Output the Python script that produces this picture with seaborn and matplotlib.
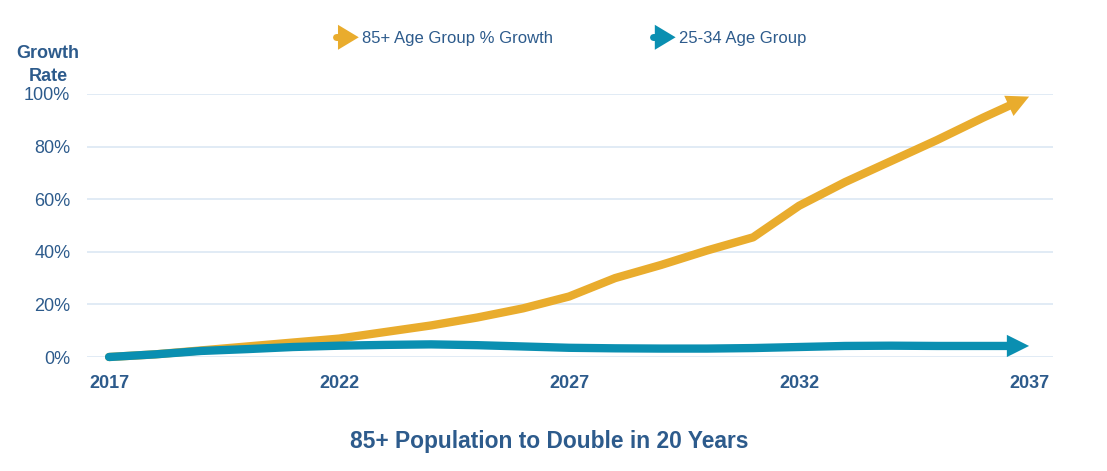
import matplotlib
matplotlib.use("Agg")
import matplotlib.pyplot as plt
from matplotlib.lines import Line2D
from matplotlib.patches import Polygon
from matplotlib.legend_handler import HandlerBase
import seaborn as sns
import pandas as pd
import numpy as np

years = list(range(2017, 2038))
growth_85 = [0, 1, 2.5, 4, 5.5, 7, 9.5, 12, 15, 18.5, 23, 30, 35, 40.5, 45.5,
             57.5, 66.5, 74.5, 82.5, 91, 99]
growth_25_34 = [0, 1, 2.3, 3, 3.8, 4.3, 4.6, 4.8, 4.5, 4.0, 3.5, 3.3, 3.2, 3.2, 3.4,
                3.8, 4.2, 4.3, 4.2, 4.2, 4.2]
series_names = ["85+ Age Group % Growth", "25-34 Age Group"]
x_ticks = [2017, 2022, 2027, 2032, 2037]
y_ticks = [0, 20, 40, 60, 80, 100]

ORANGE = "#E9AC2D"
TEAL = "#0A8FB1"
TEXT = "#2D5B8C"
GRID = "#DCE8F4"
LW = 6.0

sns.set_theme(style="white")
plt.rcParams["font.family"] = ["Liberation Sans", "DejaVu Sans"]

df = pd.DataFrame({"year": years * 2,
                   "value": growth_85 + growth_25_34,
                   "series": [series_names[0]] * len(years) + [series_names[1]] * len(years)})

fig = plt.figure(figsize=(11.07, 4.71), dpi=100)
ax = fig.add_axes([87 / 1107, 1 - 357 / 471, (1053 - 87) / 1107, (357 - 94) / 471])

colors = {series_names[0]: ORANGE, series_names[1]: TEAL}
sns.lineplot(data=df, x="year", y="value", hue="series", palette=colors,
             linewidth=LW, ax=ax, legend=False, solid_capstyle="round",
             solid_joinstyle="round", clip_on=False, zorder=3)

ax.set_xlim(2016.52, 2037.52)
ax.set_ylim(0, 100)

# shorten line ends so the arrow heads form sharp tips, then add heads
px_per_pt = fig.dpi / 72.0
for line, vals, c in zip(ax.lines[:2], [growth_85, growth_25_34], [ORANGE, TEAL]):
    xd = np.asarray(line.get_xdata(), float)
    yd = np.asarray(line.get_ydata(), float)
    p1 = ax.transData.transform((xd[-2], yd[-2]))
    p2 = ax.transData.transform((xd[-1], yd[-1]))
    d = (p2 - p1) / np.hypot(*(p2 - p1))
    newend = ax.transData.inverted().transform(p2 - d * 11 * px_per_pt)
    xd[-1], yd[-1] = newend
    line.set_data(xd, yd)
    ax.annotate("", xy=(years[-1], vals[-1]), xytext=(years[-2], vals[-2]),
                arrowprops=dict(arrowstyle="-|>,head_length=0.8,head_width=0.4",
                                mutation_scale=20, color=c, lw=0,
                                shrinkA=0, shrinkB=0),
                annotation_clip=False, zorder=4)

ax.set_xticks(x_ticks)
ax.set_xticklabels([str(t) for t in x_ticks], fontsize=13, fontweight="bold", color=TEXT)
ax.set_yticks(y_ticks)
ax.set_yticklabels([f"{t}%" for t in y_ticks], fontsize=13, color=TEXT)
ax.tick_params(axis="x", length=0, pad=13)
ax.tick_params(axis="y", length=0, pad=12)
ax.grid(axis="y", color=GRID, linewidth=1.2)
ax.set_axisbelow(True)
for s in ax.spines.values():
    s.set_visible(False)
ax.set_xlabel("")
ax.set_ylabel("")

fig.text(0.0435, 0.862, "Growth\nRate", ha="center", va="center", fontsize=13,
         fontweight="bold", color=TEXT, linespacing=1.5)


class ArrowHandler(HandlerBase):
    def create_artists(self, legend, orig_handle, xdescent, ydescent,
                       width, height, fontsize, trans):
        c = orig_handle.get_color()
        cy = height / 2 - ydescent
        x0 = -xdescent
        stub = Line2D([x0 + 3, x0 + width * 0.45], [cy, cy], color=c, lw=5,
                      solid_capstyle="round", transform=trans)
        tri = Polygon([[x0 + width * 0.22, cy + 9], [x0 + width * 0.22, cy - 9],
                       [x0 + width, cy]], closed=True, facecolor=c,
                      edgecolor="none", transform=trans)
        return [stub, tri]


handles = [Line2D([0], [0], color=ORANGE), Line2D([0], [0], color=TEAL)]
fig.legend(handles, series_names, loc="center", bbox_to_anchor=(0.5142, 0.918),
           ncol=2, frameon=False, fontsize=12, handlelength=1.6,
           columnspacing=5.75, handletextpad=0.2, labelcolor=TEXT,
           handler_map={Line2D: ArrowHandler()})

fig.text(0.496, 0.063, "85+ Population to Double in 20 Years", ha="center",
         va="center", fontsize=16.4, fontweight="bold", color=TEXT)

fig.savefig("out.png", dpi=100)
